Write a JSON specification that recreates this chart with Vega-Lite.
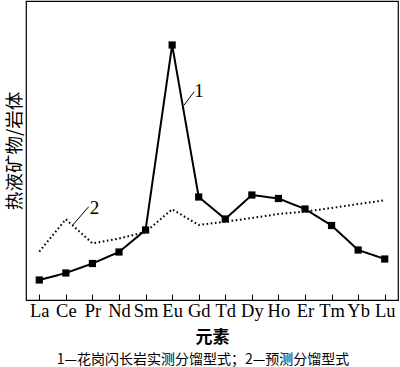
{
  "$schema": "https://vega.github.io/schema/vega-lite/v6.json",
  "width": 372,
  "height": 299,
  "autosize": {"type": "none"},
  "padding": {"left": 26, "top": 1, "right": 2, "bottom": 67},
  "background": "white",
  "config": {
    "view": {"stroke": "black", "strokeWidth": 1.2},
    "font": "Liberation Serif"
  },
  "title": {
    "text": "1—花岗闪长岩实测分馏型式；2—预测分馏型式",
    "orient": "bottom",
    "anchor": "middle",
    "font": "Noto Sans CJK SC",
    "fontSize": 14,
    "fontWeight": "normal",
    "color": "black",
    "offset": 8,
    "dx": -9
  },
  "datasets": {
    "ree": [
      {"element": "La", "i": 0, "series": "1", "value": 20},
      {"element": "Ce", "i": 1, "series": "1", "value": 27},
      {"element": "Pr", "i": 2, "series": "1", "value": 36.5},
      {"element": "Nd", "i": 3, "series": "1", "value": 48},
      {"element": "Sm", "i": 4, "series": "1", "value": 70},
      {"element": "Eu", "i": 5, "series": "1", "value": 255},
      {"element": "Gd", "i": 6, "series": "1", "value": 103},
      {"element": "Td", "i": 7, "series": "1", "value": 81},
      {"element": "Dy", "i": 8, "series": "1", "value": 105},
      {"element": "Ho", "i": 9, "series": "1", "value": 101.5},
      {"element": "Er", "i": 10, "series": "1", "value": 91},
      {"element": "Tm", "i": 11, "series": "1", "value": 74.5},
      {"element": "Yb", "i": 12, "series": "1", "value": 50},
      {"element": "Lu", "i": 13, "series": "1", "value": 41},
      {"element": "La", "i": 0, "series": "2", "value": 48.3},
      {"element": "Ce", "i": 1, "series": "2", "value": 80.7},
      {"element": "Pr", "i": 2, "series": "2", "value": 56.7},
      {"element": "Nd", "i": 3, "series": "2", "value": 61.5},
      {"element": "Sm", "i": 4, "series": "2", "value": 68},
      {"element": "Eu", "i": 5, "series": "2", "value": 90.7},
      {"element": "Gd", "i": 6, "series": "2", "value": 75},
      {"element": "Td", "i": 7, "series": "2", "value": 78.3},
      {"element": "Dy", "i": 8, "series": "2", "value": 82},
      {"element": "Ho", "i": 9, "series": "2", "value": 86},
      {"element": "Er", "i": 10, "series": "2", "value": 88.4},
      {"element": "Tm", "i": 11, "series": "2", "value": 92},
      {"element": "Yb", "i": 12, "series": "2", "value": 96},
      {"element": "Lu", "i": 13, "series": "2", "value": 99.7}
    ],
    "leaders": [
      {"label": "1", "i": 5.45, "value": 195},
      {"label": "1", "i": 5.83, "value": 208.3},
      {"label": "2", "i": 1.26, "value": 75},
      {"label": "2", "i": 1.86, "value": 93.3}
    ],
    "labels": [
      {"label": "1", "i": 6.01, "value": 209},
      {"label": "2", "i": 2.08, "value": 92.5}
    ]
  },
  "encoding": {
    "x": {
      "field": "i",
      "type": "quantitative",
      "scale": {"domain": [-0.5, 13.5], "nice": false, "zero": false},
      "axis": {
        "values": [0, 1, 2, 3, 4, 5, 6, 7, 8, 9, 10, 11, 12, 13],
        "labelExpr": "['La','Ce','Pr','Nd','Sm','Eu','Gd','Td','Dy','Ho','Er','Tm','Yb','Lu'][datum.value]",
        "grid": false,
        "domain": false,
        "tickSize": -6,
        "tickColor": "black",
        "tickWidth": 1,
        "labelFont": "Liberation Serif",
        "labelFontSize": 18.5,
        "labelColor": "black",
        "labelPadding": 7.5,
        "labelOverlap": false,
        "labelFlush": false,
        "title": "元素",
        "titleFont": "Noto Sans CJK SC",
        "titleFontSize": 17,
        "titleFontWeight": "bold",
        "titleColor": "black",
        "titlePadding": 9
      }
    },
    "y": {
      "field": "value",
      "type": "quantitative",
      "scale": {"domain": [0, 299], "nice": false},
      "axis": {
        "labels": false,
        "ticks": false,
        "grid": false,
        "domain": false,
        "title": "热液矿物/岩体",
        "titleFont": "Noto Sans CJK SC",
        "titleFontSize": 18.5,
        "titleFontWeight": "normal",
        "titleColor": "black",
        "titlePadding": 2
      }
    }
  },
  "layer": [
    {
      "data": {"name": "ree"},
      "mark": {"type": "line", "color": "black", "strokeWidth": 2},
      "encoding": {
        "detail": {"field": "series"},
        "strokeDash": {
          "field": "series",
          "type": "nominal",
          "scale": {"domain": ["1", "2"], "range": [[1, 0], [1.6, 2.6]]},
          "legend": null
        },
        "strokeWidth": {
          "field": "series",
          "type": "nominal",
          "scale": {"domain": ["1", "2"], "range": [2.2, 1.7]},
          "legend": null
        }
      }
    },
    {
      "data": {"name": "ree"},
      "transform": [{"filter": "datum.series == '1'"}],
      "mark": {"type": "square", "color": "black", "filled": true, "size": 52, "opacity": 1},
      "encoding": {}
    },
    {
      "data": {"name": "leaders"},
      "mark": {"type": "line", "color": "black", "strokeWidth": 1},
      "encoding": {
        "detail": {"field": "label"}
      }
    },
    {
      "data": {"name": "labels"},
      "mark": {"type": "text", "font": "Liberation Serif", "fontSize": 19, "color": "black", "baseline": "middle", "align": "center"},
      "encoding": {
        "text": {"field": "label"}
      }
    }
  ]
}
